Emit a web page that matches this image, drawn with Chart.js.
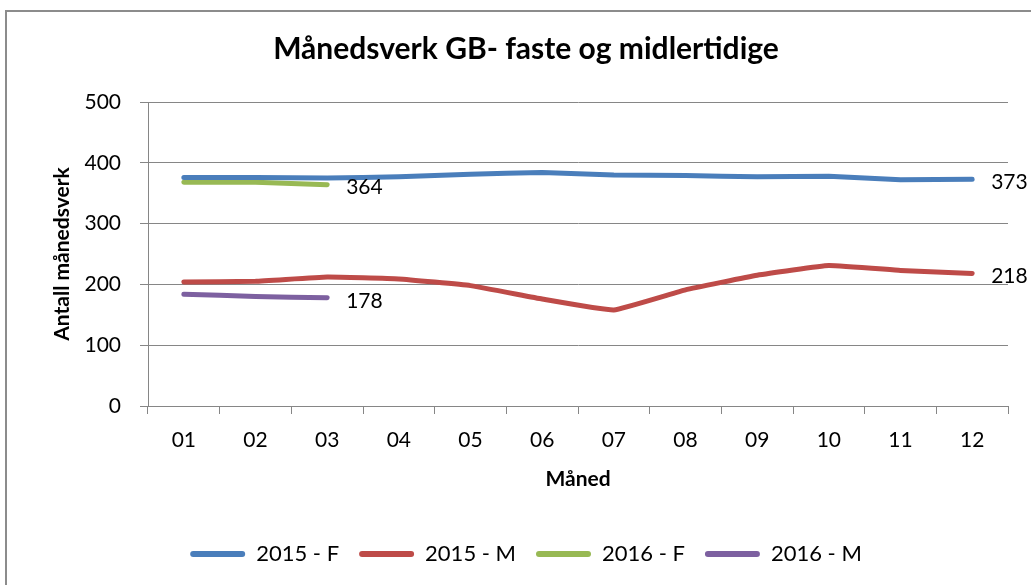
<!DOCTYPE html>
<html>
<head>
<meta charset="utf-8">
<script src="https://cdn.jsdelivr.net/npm/chart.js@4.4.1/dist/chart.umd.min.js"></script>
<style>
  html, body { margin: 0; padding: 0; background: #fff; overflow: hidden; }
  #wrap { position: relative; width: 1031px; height: 585px; }
  #frame { position: absolute; left: 5px; top: 10px; width: 1100px; height: 700px; border: 2px solid #8c8c8c; box-sizing: border-box; }
  canvas { position: absolute; left: 0; top: 0; }
</style>
</head>
<body>
<div id="wrap">
  <div id="frame"></div>
  <canvas id="chart" width="1031" height="585"></canvas>
</div>
<script>
// Månedsverk per måned
const months = ['01', '02', '03', '04', '05', '06', '07', '08', '09', '10', '11', '12'];
const fast2015 = [376, 376, 375, 377, 381, 384, 380, 379, 377, 378, 372, 373];
const midl2015 = [204, 205, 212, 209, 198, 176, 158, 191, 215, 231, 223, 218];
const fast2016 = [368, 368, 364];
const midl2016 = [184, 180, 178];
const yTicks = [0, 100, 200, 300, 400, 500];

const FONT = 'Lato, "Open Sans", sans-serif';
const GRID = '#868686';

// tallet ved siste punkt i hver serie
const lastLabelPlugin = {
  id: 'lastLabel',
  afterDatasetsDraw(chart) {
    const ctx = chart.ctx;
    ctx.save();
    ctx.font = '21px ' + FONT;
    ctx.fillStyle = '#000';
    ctx.textBaseline = 'middle';
    ctx.textAlign = 'left';
    chart.data.datasets.forEach((ds, i) => {
      const meta = chart.getDatasetMeta(i);
      const pt = meta.data[meta.data.length - 1];
      if (!pt) return;
      ctx.fillText(String(ds.data[ds.data.length - 1]), pt.x + 19, pt.y + 3);
    });
    ctx.restore();
  }
};

const mk = (label, data, color) => ({
  label,
  data,
  borderColor: color,
  backgroundColor: color,
  borderWidth: 5,
  borderCapStyle: 'round',
  borderJoinStyle: 'round',
  pointRadius: 0,
  pointHoverRadius: 0,
  tension: 0.1,
  fill: false
});

new Chart(document.getElementById('chart'), {
  type: 'line',
  data: {
    labels: months,
    datasets: [
      mk('2015 - F', fast2015, '#4A7EBB'),
      mk('2015 - M', midl2015, '#BE4B48'),
      mk('2016 - F', fast2016, '#98B954'),
      mk('2016 - M', midl2016, '#7D60A0')
    ]
  },
  options: {
    responsive: false,
    animation: false,
    events: [],
    layout: { padding: { left: 21, right: 0, top: 0, bottom: 10 } },
    plugins: {
      title: {
        display: true,
        text: 'Månedsverk GB- faste og midlertidige',
        color: '#000',
        font: { family: FONT, size: 30, weight: 'bold' },
        padding: { top: 31, bottom: 35 }
      },
      legend: {
        position: 'bottom',
        labels: {
          color: '#000',
          font: { family: FONT, size: 22 },
          boxWidth: 55,
          boxHeight: 6,
          useBorderRadius: true,
          borderRadius: 3,
          padding: 20,
          generateLabels(chart) {
            return chart.data.datasets.map((ds, i) => ({
              text: ds.label,
              fillStyle: ds.borderColor,
              strokeStyle: ds.borderColor,
              lineWidth: 0,
              hidden: false,
              datasetIndex: i,
              borderRadius: 3,
              fontColor: '#000'
            }));
          }
        }
      },
      tooltip: { enabled: false }
    },
    scales: {
      x: {
        offset: true,
        grid: { offset: true, drawOnChartArea: false, drawTicks: true, tickLength: 8, color: GRID },
        border: { display: true, color: GRID, width: 1 },
        ticks: { color: '#000', font: { family: FONT, size: 21 }, padding: 14, maxRotation: 0 },
        title: {
          display: true,
          text: 'Måned',
          color: '#000',
          font: { family: FONT, size: 21, weight: 'bold' },
          padding: { top: 4, bottom: 31 }
        },
        afterFit(s) { s.height = 117; }
      },
      y: {
        min: 0,
        max: 500,
        afterBuildTicks(s) { s.ticks = yTicks.map(v => ({ value: v })); },
        grid: { color: GRID, lineWidth: 1, drawTicks: true, tickLength: 8 },
        border: { display: true, color: GRID, width: 1 },
        ticks: { color: '#000', font: { family: FONT, size: 21 }, padding: 19 },
        title: {
          display: true,
          text: 'Antall månedsverk',
          color: '#000',
          font: { family: FONT, size: 21, weight: 'bold' },
          padding: { top: 29, bottom: 0 }
        },
        afterFit(s) { s.width = 127; }
      },
      // tom akse til høyre, holder plass så plottet slutter ved x≈1008
      yRight: {
        position: 'right',
        display: true,
        min: 0,
        max: 500,
        grid: { display: false, drawTicks: false },
        border: { display: false },
        ticks: { display: false },
        afterFit(s) { s.width = 23; }
      }
    }
  },
  plugins: [lastLabelPlugin]
});
</script>
</body>
</html>
